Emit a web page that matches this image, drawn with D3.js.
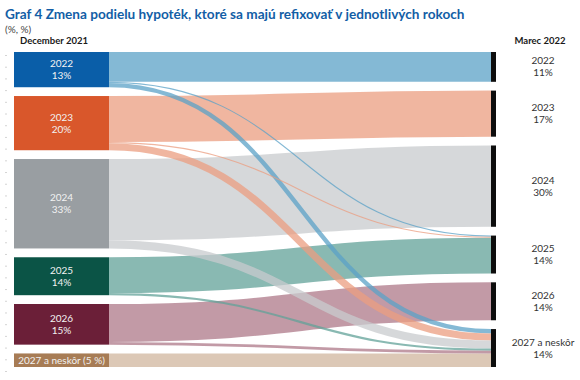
<!DOCTYPE html>
<html>
<head>
<meta charset="utf-8">
<script src="https://cdn.jsdelivr.net/npm/d3@7"></script>
<style>
  html, body { margin: 0; padding: 0; background: #ffffff; }
  svg { display: block; font-family: Lato, "Open Sans", sans-serif; }
</style>
</head>
<body>
<svg id="chart" width="580" height="380"></svg>
<script>
// ---- data ----
const titleText = "Graf 4 Zmena podielu hypoték, ktoré sa majú refixovať v jednotlivých rokoch";
const unitText = "(%, %)";
const leftHeader = "December 2021";
const rightHeader = "Marec 2022";
const categories = ["2022", "2023", "2024", "2025", "2026", "2027 a neskôr"];
const leftValues = [13, 20, 33, 14, 15, 5];
const rightValues = [11, 17, 30, 14, 14, 14];
const flowSource = [0, 0, 0, 1, 1, 1, 2, 2, 3, 3, 4, 4, 5];
const flowTarget = [0, 3, 5, 1, 3, 5, 2, 5, 3, 5, 4, 5, 5];
const flowValue  = [11, 0.4, 1.6, 17, 0.4, 2.6, 30, 3, 13.2, 0.8, 14, 1, 5];

// ---- styles ----
const nodeColors = ["#0a5ea8", "#d9572b", "#999ea2", "#0b5446", "#6b1f38", "#a77c55"];
const linkColors = ["#5ba2c7", "#eb9e80", "#c8cbce", "#62a298", "#ae7888", "#d0b69e"];

const svg = d3.select("#chart");
const topY = 52, gap = 8.8;
const xLeft0 = 14, xLeft1 = 109, xRight = 491, barW = 5;
const h = d3.scaleLinear().domain([0, 100]).range([0, 271]);

// faint background tick marks (left edge)
const tickScale = d3.scaleLinear().domain([0, 27]).range([55, 371]);
svg.append("g").attr("transform", "translate(7,0)")
  .call(d3.axisLeft(tickScale).ticks(27).tickSize(2).tickFormat(""))
  .call(g => g.select(".domain").remove())
  .call(g => g.selectAll("line").attr("stroke", "#d4d4d4"));

function layout(values) {
  let y = topY;
  return values.map((v, i) => {
    const n = { i, v, y0: y, y1: y + h(v) };
    y = n.y1 + gap;
    return n;
  });
}
const leftNodes = layout(leftValues);
const rightNodes = layout(rightValues);

const links = flowValue.map((v, i) => ({ s: flowSource[i], t: flowTarget[i], v, w: h(v) }));
leftNodes.forEach(n => {
  let y = n.y0;
  links.filter(l => l.s === n.i).sort((a, b) => a.t - b.t).forEach(l => { l.ys = y + l.w / 2; y += l.w; });
});
rightNodes.forEach(n => {
  let y = n.y0;
  links.filter(l => l.t === n.i).sort((a, b) => a.s - b.s).forEach(l => { l.yt = y + l.w / 2; y += l.w; });
});

const linkGen = d3.linkHorizontal()
  .source(d => [xLeft1, d.ys])
  .target(d => [xRight, d.yt]);

const mainLinks = links.filter(l => l.s === l.t);
const crossLinks = links.filter(l => l.s !== l.t);

svg.append("g").selectAll("path").data(mainLinks.concat(crossLinks)).join("path")
  .attr("d", linkGen)
  .attr("fill", "none")
  .attr("stroke", d => linkColors[d.s])
  .attr("stroke-opacity", 0.75)
  .attr("stroke-width", d => Math.max(0.8, d.w));

// left nodes
svg.append("g").selectAll("rect").data(leftNodes).join("rect")
  .attr("x", xLeft0).attr("y", d => d.y0)
  .attr("width", xLeft1 - xLeft0).attr("height", d => d.y1 - d.y0)
  .attr("fill", d => nodeColors[d.i]);

// right bars
svg.append("g").selectAll("rect").data(rightNodes).join("rect")
  .attr("x", xRight).attr("y", d => d.y0)
  .attr("width", barW).attr("height", d => d.y1 - d.y0)
  .attr("fill", "#0d0d0d");

// left labels
const lx = (xLeft0 + xLeft1) / 2;
leftNodes.forEach(n => {
  const cy = (n.y0 + n.y1) / 2;
  const style = s => s.attr("text-anchor", "middle").attr("font-size", 10).attr("fill", "#f2f2f2");
  if (n.i === categories.length - 1) {
    svg.append("text").call(style).attr("x", lx).attr("y", cy + 3.5)
      .text(categories[n.i] + " (" + n.v + " %)");
  } else {
    svg.append("text").call(style).attr("x", lx).attr("y", cy - 2.5).text(categories[n.i]);
    svg.append("text").call(style).attr("x", lx).attr("y", cy + 9.5).text(n.v + "%");
  }
});

// right labels
const rx = 543;
rightNodes.forEach(n => {
  const cy = (n.y0 + n.y1) / 2;
  const style = s => s.attr("text-anchor", "middle").attr("font-size", 10).attr("fill", "#333333");
  svg.append("text").call(style).attr("x", rx).attr("y", cy - 2.5).text(categories[n.i]);
  svg.append("text").call(style).attr("x", rx).attr("y", cy + 9.5).text(n.v + "%");
});

// headers
svg.append("text").attr("x", 54).attr("y", 44).attr("text-anchor", "middle")
  .attr("font-size", 9.5).attr("font-weight", "bold").attr("fill", "#1a1a1a").text(leftHeader);
svg.append("text").attr("x", 540).attr("y", 44).attr("text-anchor", "middle")
  .attr("font-size", 9.5).attr("font-weight", "bold").attr("fill", "#1a1a1a").text(rightHeader);

// title
const t = svg.append("text").attr("x", 5).attr("y", 19)
  .attr("font-size", 14).attr("font-weight", "bold").attr("fill", "#135ea6").text(titleText);
const tw = t.node().getComputedTextLength();
t.attr("font-size", 14 * 460 / tw);
svg.append("text").attr("x", 5).attr("y", 33)
  .attr("font-size", 10).attr("fill", "#444444").text(unitText);
</script>
</body>
</html>
